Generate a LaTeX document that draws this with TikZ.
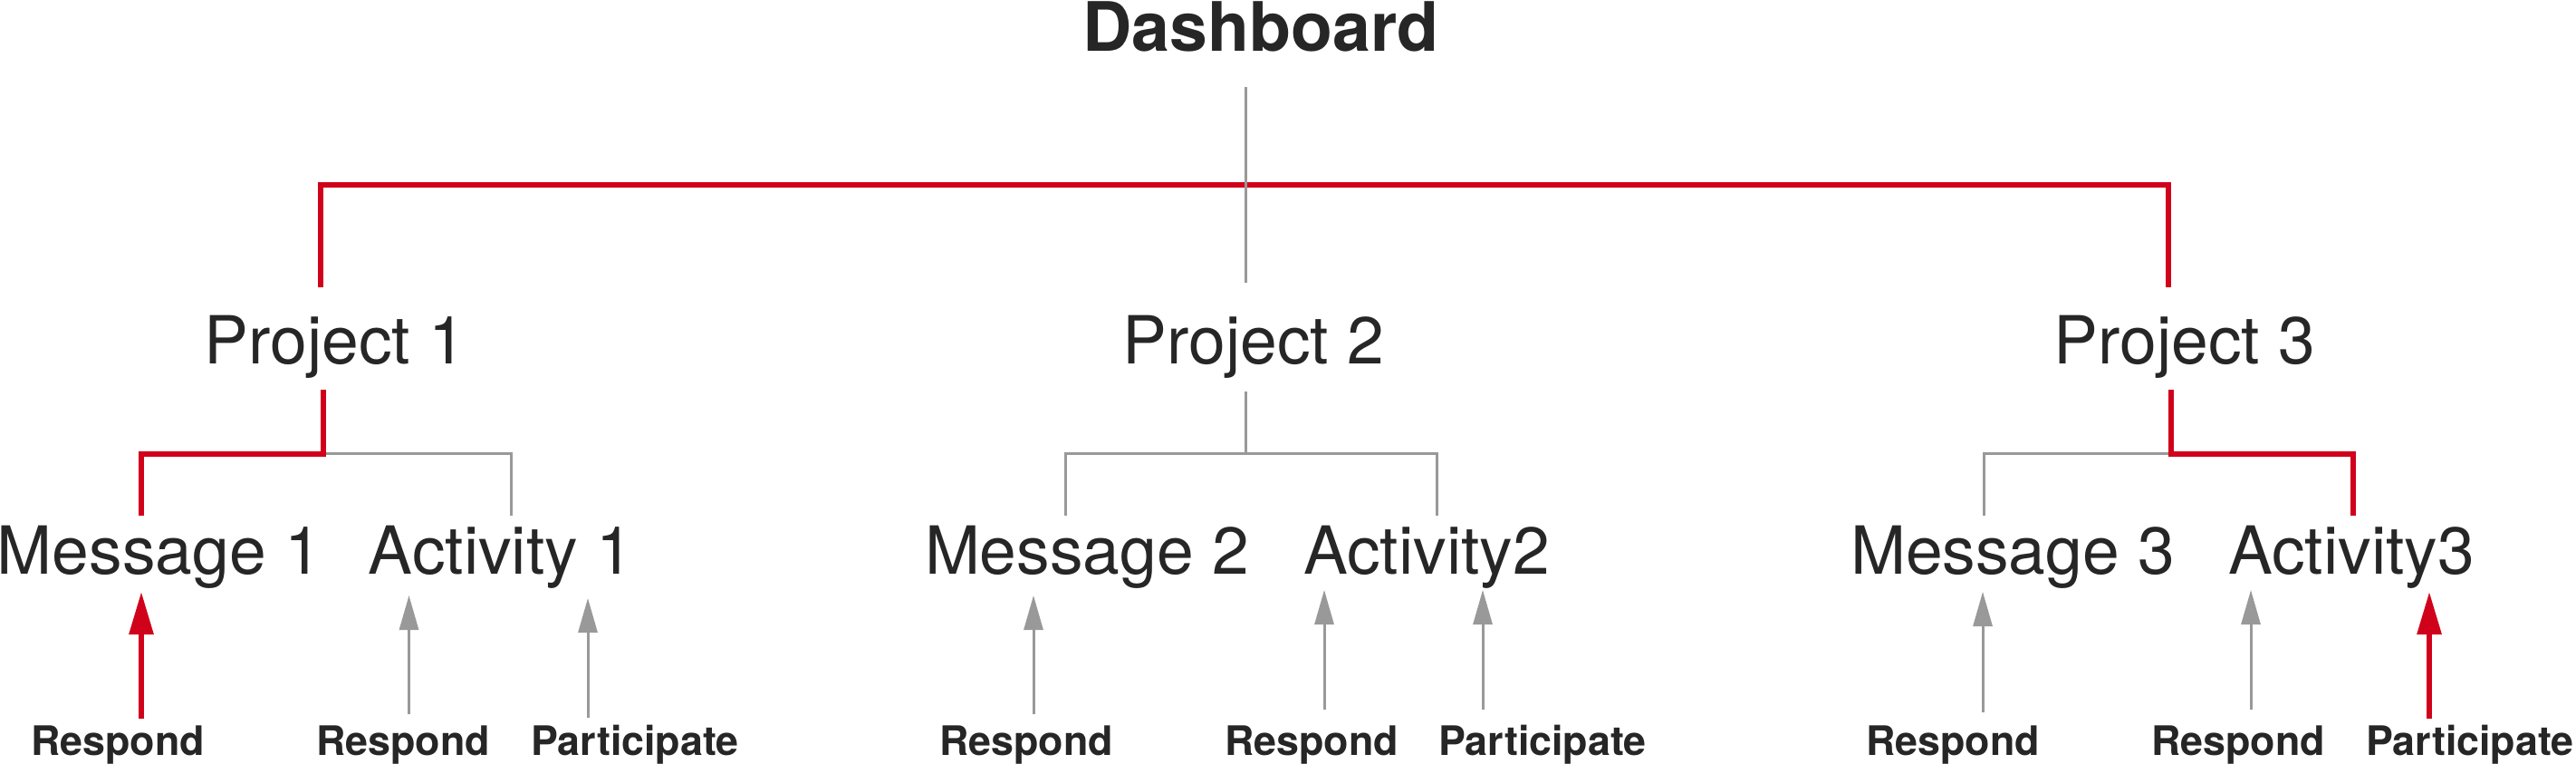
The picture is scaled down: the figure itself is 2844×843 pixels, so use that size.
\documentclass[tikz,border=0pt]{standalone}
\usepackage{fontspec}
\setmainfont{TeX Gyre Heros}
\usetikzlibrary{arrows.meta}
\definecolor{accent}{HTML}{D0021B}
\definecolor{linegray}{HTML}{999999}
\definecolor{ink}{HTML}{262626}
\begin{document}
\begin{tikzpicture}[x=0.25pt,y=-0.25pt,
  titletext/.style={font=\fontsize{18.8}{20}\selectfont\bfseries, text=ink, inner sep=0pt, anchor=base},
  itemtext/.style={font=\fontsize{18.3}{20}\selectfont, text=ink, inner sep=0pt, anchor=base},
  actiontext/.style={font=\fontsize{11.2}{12}\selectfont\bfseries, text=ink, inner sep=0pt, anchor=base},
  hot/.style={draw=accent, line width=1.5pt},
  cold/.style={draw=linegray, line width=0.75pt},
  hotarrow/.style={hot, -{Triangle[length=11.75pt,width=6.5pt]}},
  coldarrow/.style={cold, -{Triangle[length=9.5pt,width=5.25pt]}}]
\useasboundingbox (0,0) rectangle (2844,843);

% texts
\node[titletext] (dash) at (1392,57) {Dashboard};
\node[itemtext] (p1) at (370,402) {Project 1};
\node[itemtext] (p2) at (1384,402) {Project 2};
\node[itemtext] (p3) at (2412,402) {Project 3};
\node[itemtext] (m1) at (176,633) {Message 1};
\node[itemtext] (a1) at (553,633) {Activity 1};
\node[itemtext] (m2) at (1200,633) {Message 2};
\node[itemtext] (a2) at (1575,633) {Activity2};
\node[itemtext] (m3) at (2222,633) {Message 3};
\node[itemtext] (a3) at (2596,633) {Activity3};
\node[actiontext] (r1) at (130,833) {Respond};
\node[actiontext] (r2) at (445,833) {Respond};
\node[actiontext] (q1) at (701,833) {Participate};
\node[actiontext] (r3) at (1133,833) {Respond};
\node[actiontext] (r4) at (1448,833) {Respond};
\node[actiontext] (q2) at (1703,833) {Participate};
\node[actiontext] (r5) at (2156,833) {Respond};
\node[actiontext] (r6) at (2471,833) {Respond};
\node[actiontext] (q3) at (2727,833) {Participate};

% top level tree
\coordinate (dtop) at (1375.5,96);
\coordinate (dbot) at (1375.5,312);
\coordinate (p1up) at (354,317);
\coordinate (p3up) at (2394,317);
\coordinate (bar) at (1375.5,204);
\draw[hot] (p1up) |- (bar) -| (p3up);
\draw[cold] (dtop) -- (dbot);

% project 1
\coordinate (p1s) at (357,430);
\coordinate (p1j) at (357,501);
\coordinate (m1n) at (156,569);
\coordinate (a1n) at (564,569);
\draw[cold] (p1j) -| (a1n);
\draw[hot] (p1s) -- (p1j) -| (m1n);

% project 2
\coordinate (p2s) at (1375.5,432);
\coordinate (p2j) at (1375.5,501);
\coordinate (m2n) at (1176,569);
\coordinate (a2n) at (1586,569);
\draw[cold] (p2s) -- (p2j);
\draw[cold] (m2n) |- (p2j) -| (a2n);

% project 3
\coordinate (p3s) at (2397,430);
\coordinate (p3j) at (2397,501);
\coordinate (m3n) at (2190,569);
\coordinate (a3n) at (2598,569);
\draw[cold] (p3j) -| (m3n);
\draw[hot] (p3s) -- (p3j) -| (a3n);

% arrows group 1
\coordinate (t1) at (156,653);  \coordinate (b1) at (156,793);
\coordinate (t2) at (451.5,657); \coordinate (b2) at (451.5,788);
\coordinate (t3) at (649,660);  \coordinate (b3) at (649,792);
\draw[hotarrow] (b1) -- (t1);
\draw[coldarrow] (b2) -- (t2);
\draw[coldarrow] (b3) -- (t3);

% arrows group 2
\coordinate (t4) at (1141,657); \coordinate (b4) at (1141,788);
\coordinate (t5) at (1462,651); \coordinate (b5) at (1462,783);
\coordinate (t6) at (1637,651); \coordinate (b6) at (1637,783);
\draw[coldarrow] (b4) -- (t4);
\draw[coldarrow] (b5) -- (t5);
\draw[coldarrow] (b6) -- (t6);

% arrows group 3
\coordinate (t7) at (2189,653); \coordinate (b7) at (2189,786);
\coordinate (t8) at (2485,651); \coordinate (b8) at (2485,783);
\coordinate (t9) at (2682,653); \coordinate (b9) at (2682,793);
\draw[coldarrow] (b7) -- (t7);
\draw[coldarrow] (b8) -- (t8);
\draw[hotarrow] (b9) -- (t9);
\end{tikzpicture}
\end{document}
